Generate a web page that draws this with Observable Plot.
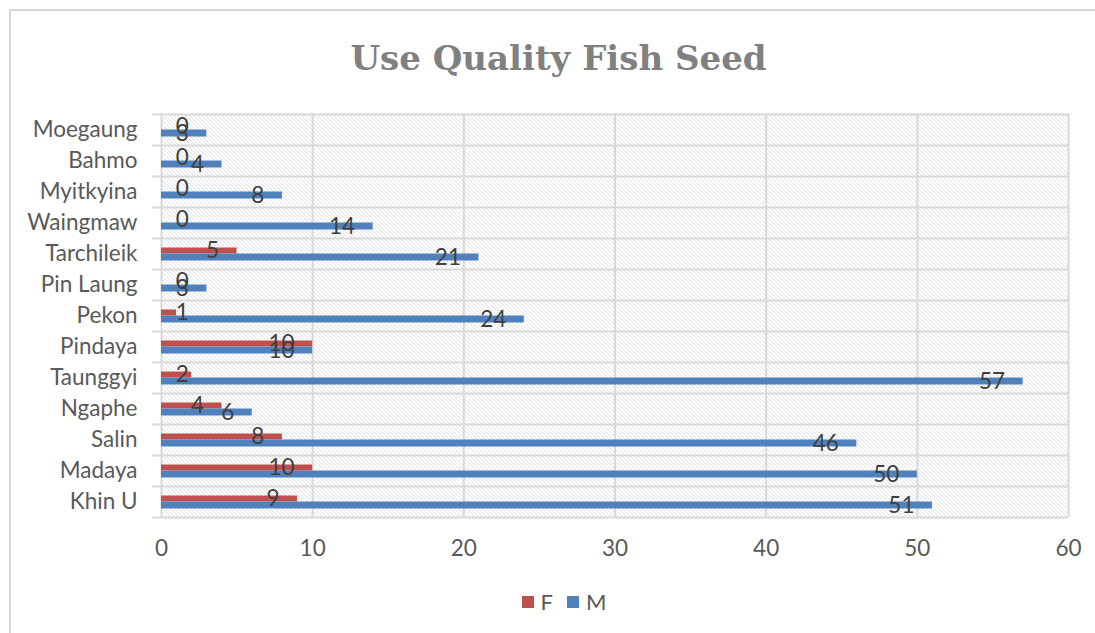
<!DOCTYPE html>
<html>
<head>
<meta charset="utf-8">
<script src="https://cdn.jsdelivr.net/npm/d3@7"></script>
<script src="https://cdn.jsdelivr.net/npm/@observablehq/plot@0.6"></script>
<style>
  body { margin: 0; background: #fff; }
  #wrap { position: relative; width: 1095px; height: 633px; overflow: hidden; background: #fff; }
  #border { position: absolute; left: 9px; top: 9px; width: 1200px; height: 800px; border-left: 2px solid #d9d9d9; border-top: 2px solid #d9d9d9; }
  #title { position: absolute; left: 0; width: 1117px; top: 38px; text-align: center; font-family: "DejaVu Serif", serif; font-weight: bold; font-size: 34px; color: #808080; line-height: 40px; }
  #chart { position: absolute; left: 0; top: 90px; }
  #legend { position: absolute; left: 0; width: 1128px; top: 588px; display: flex; justify-content: center; align-items: center; font-family: Lato, sans-serif; font-size: 22px; color: #595959; }
  .sw { display: inline-block; width: 12px; height: 12px; margin-right: 7px; }
  .item { display: flex; align-items: center; margin: 0 7px; }
</style>
</head>
<body>
<div id="wrap">
  <div id="border"></div>
  <div id="title">Use Quality Fish Seed</div>
  <div id="chart"></div>
  <div id="legend"></div>
</div>
<script>
const categories = ["Moegaung","Bahmo","Myitkyina","Waingmaw","Tarchileik","Pin Laung","Pekon","Pindaya","Taunggyi","Ngaphe","Salin","Madaya","Khin U"];
const femaleValues = [0,0,0,0,5,0,1,10,2,4,8,10,9];
const maleValues = [3,4,8,14,21,3,24,10,57,6,46,50,51];
const xTicks = [0,10,20,30,40,50,60];
const seriesNames = ["F","M"];
const seriesColors = ["#C0504D","#4F81BD"];

const female = categories.map((c, i) => ({cat: c, value: femaleValues[i]}));
const male = categories.map((c, i) => ({cat: c, value: maleValues[i]}));

const W = 1095, H = 490, mt = 23, mb = 63, ml = 161, mr = 27;
const bw = (H - mt - mb) / categories.length;
const grid = "#d9d9d9";

const svg = Plot.plot({
  width: W, height: H,
  marginTop: mt, marginBottom: mb, marginLeft: ml, marginRight: mr,
  style: {fontFamily: "Lato, sans-serif", fontSize: "22.5px", color: "#595959", background: "transparent", overflow: "visible"},
  x: {domain: [0, 60], ticks: xTicks, tickSize: 0, tickPadding: 23, label: null},
  y: {domain: categories, padding: 0, tickSize: 0, tickPadding: 24, label: null},
  marks: [
    Plot.barX(categories, {y: d => d, x1: 0, x2: 60, fill: "url(#hatch)"}),
    Plot.ruleX(xTicks, {x: d => d, stroke: grid, strokeWidth: 2}),
    Plot.ruleY(categories, {y: d => d, dy: -bw / 2, x1: 0, x2: 60, insetLeft: -9, stroke: grid, strokeWidth: 2}),
    Plot.ruleY(categories.slice(-1), {y: d => d, dy: bw / 2, x1: 0, x2: 60, insetLeft: -9, stroke: grid, strokeWidth: 2}),
    Plot.barX(female, {x: "value", y: "cat", fill: seriesColors[0], insetTop: 9.5, insetBottom: 15.5}),
    Plot.barX(male, {x: "value", y: "cat", fill: seriesColors[1], insetTop: 15.5, insetBottom: 8.5}),
    Plot.text(female, {x: d => Math.max(d.value, 3), y: "cat", text: d => String(d.value), textAnchor: "end", dx: -18, dy: -3, fill: "#404040", fontSize: 22.5}),
    Plot.text(male, {x: d => Math.max(d.value, 3), y: "cat", text: d => String(d.value), textAnchor: "end", dx: -18, dy: 4, fill: "#404040", fontSize: 22.5})
  ]
});

const ns = "http://www.w3.org/2000/svg";
const defs = document.createElementNS(ns, "defs");
const pat = document.createElementNS(ns, "pattern");
pat.setAttribute("id", "hatch");
pat.setAttribute("patternUnits", "userSpaceOnUse");
pat.setAttribute("width", "4");
pat.setAttribute("height", "4");
const bg = document.createElementNS(ns, "rect");
bg.setAttribute("width", "4"); bg.setAttribute("height", "4"); bg.setAttribute("fill", "#ffffff");
pat.appendChild(bg);
const p = document.createElementNS(ns, "path");
p.setAttribute("d", "M-1,-1L5,5M3,-1L5,1M-1,3L1,5");
p.setAttribute("stroke", "#dcdcdc");
p.setAttribute("stroke-width", "0.9");
pat.appendChild(p);
defs.appendChild(pat);
svg.insertBefore(defs, svg.firstChild);
document.getElementById("chart").appendChild(svg);

const legend = document.getElementById("legend");
seriesNames.forEach((n, i) => {
  const it = document.createElement("span");
  it.className = "item";
  const sw = document.createElement("span");
  sw.className = "sw";
  sw.style.background = seriesColors[i];
  it.appendChild(sw);
  it.appendChild(document.createTextNode(n));
  legend.appendChild(it);
});
</script>
</body>
</html>
